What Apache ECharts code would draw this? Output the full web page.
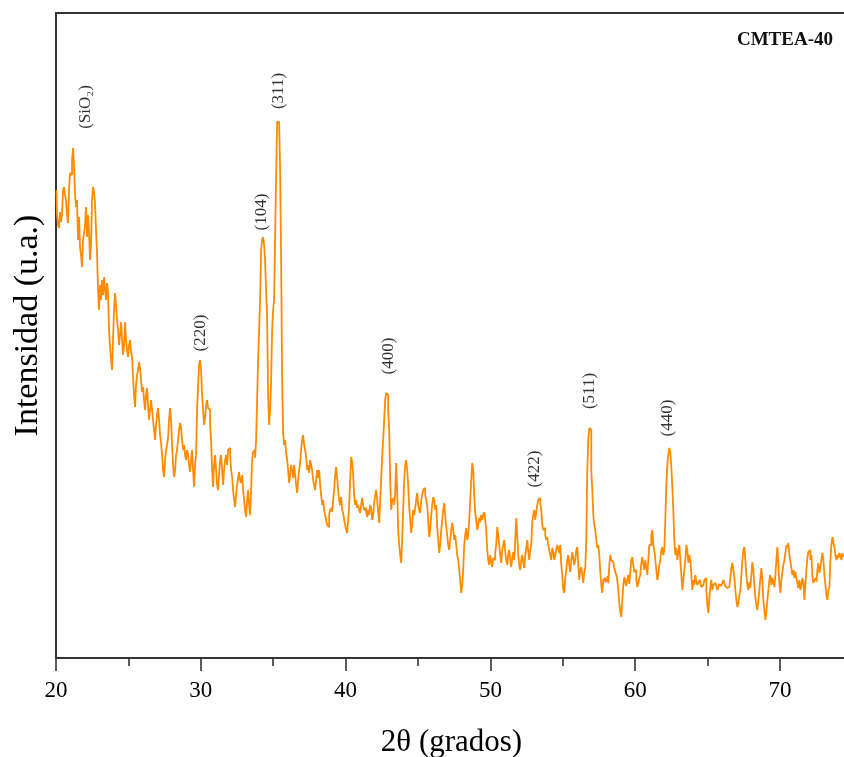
<!DOCTYPE html>
<html>
<head>
<meta charset="utf-8">
<script src="https://cdn.jsdelivr.net/npm/echarts@6/dist/echarts.min.js"></script>
<style>
  html, body { margin: 0; padding: 0; background: #fff; }
  #main { width: 844px; height: 757px; }
</style>
</head>
<body>
<div id="main"></div>
<script>
// barrido 2θ: primer punto y paso del difractómetro (grados)
var startAngle = 20.035;
var stepAngle = 0.0691;

var counts20to29 = [
  468,443,433,430,446,436,443,468,471,463,
  458,443,435,468,485,483,498,510,493,463,
  451,458,418,441,411,403,391,418,425,433,
  451,421,443,426,398,413,458,471,466,455,
  428,405,368,348,373,358,378,363,381,368,
  358,375,366,328,311,298,288,318,348,365,
  353,338,328,313,323,336,318,303,313,336,
  318,308,301,313,318,306,301,281,263,251,
  273,283,288,296,290,278,266,271,258,248,
  263,270,253,238,248,258,248,238,228,218,
  233,243,250,238,223,215,203,188,181,198,
  208,213,220,238,250,238,213,193,181,188,
  203,208,218,228,235,230,218,208,213,203,
  198,208,203,193,186,198,208,188,171,193
];
var counts29to38 = [
  203,248,273,293,298,288,263,248,233,240,
  253,258,250,248,233,218,188,171,193,203,
  188,173,168,183,198,203,188,173,188,198,
  203,193,208,210,203,188,181,168,158,151,
  163,173,180,186,178,175,183,168,158,148,
  141,158,168,153,143,168,198,206,208,200,
  218,258,298,328,358,408,418,421,413,396,
  368,341,263,233,248,278,328,348,358,421,
  481,536,536,534,488,398,281,225,213,218,
  205,198,188,175,183,193,188,180,193,183,
  173,165,178,188,195,208,218,223,213,208,
  201,188,193,185,198,193,188,178,173,168,
  178,188,180,188
];
var counts38to49 = [
  173,163,153,158,148,143,138,133,131,143,
  148,150,146,158,168,183,191,180,168,158,
  153,161,148,145,138,133,128,125,138,153,
  178,201,196,183,163,153,158,150,153,148,
  145,153,160,153,148,150,146,141,148,143,
  153,150,138,143,155,163,168,158,146,135,
  158,178,201,218,238,258,265,263,248,228,
  178,148,158,160,153,165,195,168,128,113,
  103,95,118,148,178,193,198,188,173,151,
  138,125,133,148,143,150,158,165,153,148,
  145,158,163,168,170,163,158,153,138,121,
  128,143,153,161,158,148,153,131,118,105,
  113,128,138,148,155,143,131,123,113,108,
  118,128,135,128,118,123,113,103,98,88,
  78,65,73,88,113,123,130,118,123,138,
  158,178,195,188,163,145,138,128,133,140,
  136,143,138
];
var counts49to58 = [
  143,146,138,128,108,98,93,103,96,91,
  100,98,106,113,131,123,113,103,95,108,
  113,118,106,98,93,103,108,98,91,100,
  106,98,118,140,123,103,93,88,98,103,
  96,90,103,110,118,106,98,108,113,136,
  143,148,138,146,153,158,160,155,148,133,
  128,130,123,118,121,113,108,103,98,110,
  106,98,103,108,113,110,105,113,93,83,
  68,65,80,88,98,103,93,86,98,106,
  100,93,98,108,111,93,78,88,91,83,
  75,86,90,118,188,218,230,228,188,168,
  143,133,128,118,110,113,103,86,73,65,
  78,80,76,78,82,75,93,103,98
];
var counts58to64 = [
  96,98,90,86,83,78,68,55,46,41,
  58,73,81,76,72,79,83,74,86,98,
  101,93,86,88,78,71,75,80,83,95,
  101,94,88,98,91,83,98,113,
  113,123,128,113,108,98,88,78,83,93,
  98,108,111,103,108,138,173,193,203,210,
  206,191,171,148,118,103,110,98,106,113,
  98,83,68,78,88,98,113,108,95,103,
  98,83,68,78,73,83,76
];
var counts64to74 = [
  73,76,78,74,71,73,75,78,80,68,
  53,45,60,71,78,68,73,75,76,72,
  68,71,74,72,70,75,78,75,72,70,
  68,71,73,81,90,95,88,81,68,58,
  51,55,63,68,83,98,108,111,98,83,
  73,68,76,70,83,96,88,73,61,53,
  48,58,68,80,90,78,58,48,38,46,
  58,68,78,83,73,80,76,71,83,98,
  111,93,75,65,78,86,93,98,105,113,
  110,115,103,96,90,83,88,80,86,80,
  75,70,78,68,73,80,76,58,73,88,
  100,106,108,98,103,81,75,78,80,76,
  88,95,85,90,98,105,98,83,73,63,
  58,68,71,98,113,121,115,111,103,98,
  103,100,105,102,98,105,101
];

// etiquetas de los picos: texto, posición 2θ y altura (u.a.) del centro del texto
var peakNames   = ['(SiO\u2082)', '(220)', '(104)', '(311)', '(400)', '(422)', '(511)', '(440)'];
var peakAngles  = [22.04, 29.99, 34.2, 35.38, 42.98, 53.07, 56.87, 62.26];
var peakHeights = [551, 325, 446, 567, 302, 189, 267, 240];

var xTicks = [20, 30, 40, 50, 60, 70];

var counts = [].concat(counts20to29, counts29to38, counts38to49,
                       counts49to58, counts58to64, counts64to74);
var pattern = [];
counts.forEach(function (c, i) {
  pattern.push([startAngle + i * stepAngle, c]);
});

var labelData = [];
peakNames.forEach(function (n, i) {
  labelData.push({ name: n, value: [peakAngles[i], peakHeights[i]] });
});

var serif = '"Liberation Serif", "Times New Roman", serif';
var chart = echarts.init(document.getElementById('main'));

var option = {
  animation: false,
  backgroundColor: '#fff',
  // el eje llega un poco más allá del borde derecho (la figura está recortada)
  grid: { left: 56, right: -3, top: 13, bottom: 99, containLabel: false, outerBoundsMode: 'none' },
  xAxis: [
    {
      type: 'value',
      min: 20,
      max: 74.63,
      interval: 10,
      name: '2\u03b8 (grados)',
      nameLocation: 'middle',
      nameGap: 69,
      nameTextStyle: { fontFamily: serif, fontSize: 31, color: '#000' },
      axisLine: { show: true, onZero: false, lineStyle: { color: '#333', width: 2 } },
      axisTick: { show: true, length: 13, lineStyle: { color: '#333', width: 1.6 } },
      minorTick: { show: true, splitNumber: 2, length: 8, lineStyle: { color: '#333', width: 1.6 } },
      splitLine: { show: false },
      axisLabel: {
        showMaxLabel: false,
        margin: 21,
        fontFamily: serif,
        fontSize: 23,
        color: '#000',
        formatter: function (v) { return xTicks.indexOf(v) >= 0 ? String(v) : ''; }
      }
    },
    {
      type: 'value',
      position: 'top',
      min: 20,
      max: 74.63,
      axisLine: { show: true, onZero: false, lineStyle: { color: '#333', width: 2 } },
      axisTick: { show: false },
      axisLabel: { show: false },
      splitLine: { show: false }
    }
  ],
  yAxis: {
    type: 'value',
    min: 0,
    max: 645,
    name: 'Intensidad (u.a.)',
    nameLocation: 'middle',
    nameGap: 11,
    nameTextStyle: { fontFamily: serif, fontSize: 34, color: '#000', padding: [0, 0, 0, 20] },
    axisLine: { show: true, lineStyle: { color: '#333', width: 2 } },
    axisTick: { show: false },
    axisLabel: { show: false },
    splitLine: { show: false }
  },
  graphic: [{
    type: 'text',
    right: 11,
    top: 31,
    style: { text: 'CMTEA-40', font: 'bold 19px ' + serif, fill: '#111' }
  }],
  series: [
    {
      type: 'line',
      data: pattern,
      step: 'middle',
      showSymbol: false,
      symbol: 'none',
      lineStyle: { color: '#ff8c00', width: 1.8 },
      z: 2
    },
    {
      type: 'scatter',
      data: labelData,
      symbolSize: 1,
      itemStyle: { color: 'rgba(0,0,0,0)' },
      label: {
        show: true,
        position: 'inside',
        rotate: 90,
        formatter: '{b}',
        fontFamily: serif,
        fontSize: 17,
        color: '#000'
      },
      z: 3
    }
  ]
};

chart.setOption(option);
</script>
</body>
</html>
